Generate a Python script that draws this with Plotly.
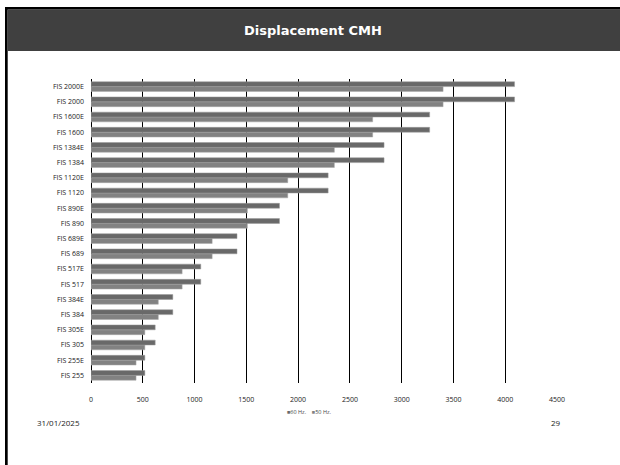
import plotly.graph_objects as go

categories = ["FIS 255", "FIS 255E", "FIS 305", "FIS 305E", "FIS 384", "FIS 384E",
              "FIS 517", "FIS 517E", "FIS 689", "FIS 689E", "FIS 890", "FIS 890E",
              "FIS 1120", "FIS 1120E", "FIS 1384", "FIS 1384E", "FIS 1600", "FIS 1600E",
              "FIS 2000", "FIS 2000E"]
hz60 = [520, 520, 620, 620, 790, 790, 1060, 1060, 1410, 1410, 1820, 1820,
        2290, 2290, 2830, 2830, 3270, 3270, 4090, 4090]
hz50 = [435, 435, 520, 520, 650, 650, 880, 880, 1170, 1170, 1510, 1510,
        1900, 1900, 2350, 2350, 2720, 2720, 3400, 3400]
x_ticks = [0, 500, 1000, 1500, 2000, 2500, 3000, 3500, 4000, 4500]

C60 = "#696969"
C50 = "#828282"

W, H = 620, 465
ML, MR, MT, MB = 91, 63, 79, 82
PW, PH = W - ML - MR, H - MT - MB

def px(x):
    return (x - ML) / PW

def py(y):
    return (H - MB - y) / PH

fig = go.Figure()
fig.add_trace(go.Bar(y=categories, x=hz50, name="50 Hz.", orientation="h",
                     marker=dict(color=C50, line=dict(color="#a8a8a8", width=0.5))))
fig.add_trace(go.Bar(y=categories, x=hz60, name="60 Hz.", orientation="h",
                     marker=dict(color=C60, line=dict(color="#9a9a9a", width=0.5))))

shapes = [
    dict(type="rect", xref="paper", yref="paper", x0=px(8), x1=px(621), y0=py(51), y1=py(9.5),
         fillcolor="#404040", line=dict(width=0), layer="below"),
    dict(type="rect", xref="paper", yref="paper", x0=px(5), x1=px(621), y0=py(9.5), y1=py(7),
         fillcolor="#000000", line=dict(width=0)),
    dict(type="rect", xref="paper", yref="paper", x0=px(5), x1=px(7.7), y0=py(466), y1=py(7),
         fillcolor="#000000", line=dict(width=0)),
]

legend_text = (f"<span style='color:{C60}'>■</span>60 Hz.&nbsp;&nbsp;&nbsp;&nbsp;"
               f"<span style='color:{C50}'>■</span>50 Hz.")

annotations = [
    dict(text="<b>Displacement CMH</b>", xref="paper", yref="paper", x=px(313), y=py(31),
         showarrow=False, font=dict(family="DejaVu Sans", size=13, color="white"),
         xanchor="center", yanchor="middle"),
    dict(text="31/01/2025", xref="paper", yref="paper", x=px(35), y=py(422),
         showarrow=False, font=dict(family="Open Sans", size=8, color="#222222"),
         xanchor="left", yanchor="middle"),
    dict(text="29", xref="paper", yref="paper", x=px(549), y=py(422),
         showarrow=False, font=dict(family="Open Sans", size=8, color="#222222"),
         xanchor="left", yanchor="middle"),
    dict(text=legend_text, xref="paper", yref="paper", x=px(309), y=py(412),
         showarrow=False, font=dict(family="Open Sans", size=5.5, color="#444444"),
         xanchor="center", yanchor="middle"),
]

fig.update_layout(
    width=W, height=H,
    margin=dict(l=ML, r=MR, t=MT, b=MB, pad=0),
    paper_bgcolor="white", plot_bgcolor="white",
    barmode="group", bargap=0.36, bargroupgap=0,
    shapes=shapes, annotations=annotations,
    showlegend=False,
    xaxis=dict(range=[0, 4500], tickvals=x_ticks, ticktext=[str(v) for v in x_ticks],
               showgrid=True, gridcolor="#000000", gridwidth=1, zeroline=True,
               zerolinecolor="#000000", zerolinewidth=1, showline=False,
               tickfont=dict(family="Open Sans", size=7, color="#1a1a1a"),
               ticks="", ticklabelstandoff=11, fixedrange=True),
    yaxis=dict(categoryorder="array", categoryarray=categories, range=[-0.5, 19.5],
               showgrid=False, showline=False, ticks="",
               tickfont=dict(family="Open Sans", size=7, color="#1a1a1a"),
               ticklabelstandoff=6, fixedrange=True),
    font=dict(family="Open Sans"),
)

fig.write_html("out.html", config={"displayModeBar": False})
